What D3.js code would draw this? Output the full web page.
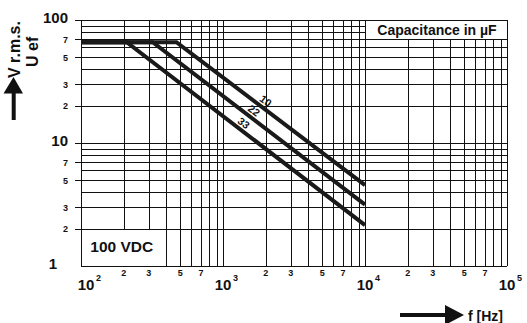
<!DOCTYPE html>
<html><head><meta charset="utf-8">
<script src="https://cdn.jsdelivr.net/npm/d3@7"></script>
<style>
html,body{margin:0;padding:0;background:#fff;}
svg{display:block;font-family:"Liberation Sans",Arial,sans-serif;font-weight:bold;}
</style></head><body>
<svg id="c" width="527" height="323"></svg>
<script>
// ---- data ----
const capacitances = ["10", "22", "33"];
const freq10 = [100, 470, 10000];
const volt10 = [66, 66, 4.55];
const freq22 = [100, 320, 10000];
const volt22 = [66, 66, 3.15];
const freq33 = [100, 210, 10000];
const volt33 = [66, 66, 2.15];
const labelFreq = [2000, 1650, 1400];
const xMinorLabels = [200, 300, 500, 700, 2000, 3000, 5000, 7000, 20000, 30000, 50000, 70000];
const xMajorLabels = [100, 1000, 10000, 100000];
const yMinorLabels = [2, 3, 5, 7, 20, 30, 50, 70];
const yMajorLabels = [1, 10, 100];
const boxVDC = {fMax: 400, vMax: 2, text: "100 VDC"};
const boxCap = {fMin: 10000, vMin: 70, text: "Capacitance in µF"};

const series = [
  {name: capacitances[0], f: freq10, v: volt10, lf: labelFreq[0]},
  {name: capacitances[1], f: freq22, v: volt22, lf: labelFreq[1]},
  {name: capacitances[2], f: freq33, v: volt33, lf: labelFreq[2]}
];

const svg = d3.select("#c");
const L = 81, R = 507, T = 20, B = 266;
const x = d3.scaleLog().domain([100, 100000]).range([L, R]);
const y = d3.scaleLog().domain([1, 100]).range([B, T]);
const px = v => Math.round(v) + 0.5;
const ink = "#111";

// grid
const g = svg.append("g");
g.selectAll("line.v").data(x.ticks()).join("line")
  .attr("x1", d => px(x(d))).attr("x2", d => px(x(d)))
  .attr("y1", T).attr("y2", B)
  .attr("stroke", ink).attr("stroke-width", 1);
g.selectAll("line.h").data(y.ticks()).join("line")
  .attr("x1", L).attr("x2", R)
  .attr("y1", d => px(y(d))).attr("y2", d => px(y(d)))
  .attr("stroke", ink).attr("stroke-width", 1);

// y tick marks (labelled values)
g.selectAll("line.yt").data(yMinorLabels.concat([10, 100])).join("line")
  .attr("x1", L - 6).attr("x2", L)
  .attr("y1", d => px(y(d))).attr("y2", d => px(y(d)))
  .attr("stroke", ink).attr("stroke-width", 1);

// 100 VDC box (blank region)
svg.append("rect")
  .attr("x", px(x(100)) + 0.5).attr("y", px(y(boxVDC.vMax)) + 0.5)
  .attr("width", px(x(boxVDC.fMax)) - px(x(100)) - 1)
  .attr("height", px(y(1)) - px(y(boxVDC.vMax)) - 1)
  .attr("fill", "#fff");
svg.append("text")
  .attr("x", (x(100) + x(boxVDC.fMax)) / 2 - 2)
  .attr("y", (y(1) + y(boxVDC.vMax)) / 2 + 5)
  .attr("text-anchor", "middle").attr("font-size", 15.5).attr("fill", ink)
  .text(boxVDC.text);

// Capacitance box
svg.append("rect")
  .attr("x", px(x(boxCap.fMin))).attr("y", px(y(100)))
  .attr("width", px(x(100000)) - px(x(boxCap.fMin)))
  .attr("height", px(y(boxCap.vMin)) - px(y(100)))
  .attr("fill", "#fff").attr("stroke", ink).attr("stroke-width", 1);
svg.append("text")
  .attr("x", (x(boxCap.fMin) + x(100000)) / 2 + 1)
  .attr("y", (y(100) + y(boxCap.vMin)) / 2 + 5)
  .attr("text-anchor", "middle").attr("font-size", 14).attr("fill", ink)
  .text(boxCap.text);

// curves
const line = d3.line().x(d => x(d[0])).y(d => y(d[1]));
svg.selectAll("path.curve").data(series).join("path")
  .attr("d", s => line(s.f.map((f, i) => [f, s.v[i]])))
  .attr("fill", "none").attr("stroke", "#1a1a1a").attr("stroke-width", 4)
  .attr("stroke-linejoin", "miter");

// curve labels
series.forEach(s => {
  const i = s.f.length - 2;
  const x0 = x(s.f[i]), y0 = y(s.v[i]), x1 = x(s.f[i + 1]), y1 = y(s.v[i + 1]);
  const ang = Math.atan2(y1 - y0, x1 - x0) * 180 / Math.PI;
  const lx = x(s.lf);
  const t = Math.log(s.lf / s.f[i]) / Math.log(s.f[i + 1] / s.f[i]);
  const ly = Math.exp(Math.log(s.v[i]) + t * (Math.log(s.v[i + 1]) - Math.log(s.v[i])));
  svg.append("text")
    .attr("transform", `translate(${lx},${y(ly) - 9}) rotate(${ang})`)
    .attr("text-anchor", "middle").attr("dy", "0.35em")
    .attr("font-size", 10.5).attr("fill", ink)
    .text(s.name);
});

// y labels
svg.selectAll("text.ym").data(yMinorLabels).join("text")
  .attr("x", 68).attr("y", d => y(d) + 3.5)
  .attr("text-anchor", "end").attr("font-size", 9).attr("fill", ink)
  .text(d => String(d)[0]);
svg.selectAll("text.yM").data(yMajorLabels).join("text")
  .attr("x", d => d === 1 ? 57 : 68).attr("y", d => y(d) + 3)
  .attr("text-anchor", "end").attr("font-size", 15).attr("fill", ink)
  .text(d => d);

// x labels
svg.selectAll("text.xm").data(xMinorLabels).join("text")
  .attr("x", d => x(d)).attr("y", 276)
  .attr("text-anchor", "middle").attr("font-size", 9).attr("fill", ink)
  .text(d => String(d)[0]);
const xm = svg.selectAll("g.xM").data(xMajorLabels).join("g")
  .attr("transform", d => `translate(${Math.max(x(d), L + 5)},0)`);
xm.append("text").attr("x", 0).attr("y", 290)
  .attr("text-anchor", "middle").attr("font-size", 15).attr("fill", ink)
  .text("10");
xm.append("text").attr("x", 10).attr("y", 281)
  .attr("text-anchor", "start").attr("font-size", 9).attr("fill", ink)
  .text(d => Math.round(Math.log10(d)));

// y axis title + arrow
svg.append("text").attr("transform", "translate(20,78) rotate(-90)")
  .attr("font-size", 16).attr("fill", ink).text("V r.m.s.");
svg.append("text").attr("transform", "translate(38,67) rotate(-90)")
  .attr("font-size", 16).attr("fill", ink).text("U ef");
svg.append("rect").attr("x", 11.7).attr("y", 92).attr("width", 4).attr("height", 28).attr("fill", ink);
svg.append("path").attr("d", "M3.5,93.5 L23,93.5 L13.5,77 Z").attr("fill", ink);

// x axis title + arrow
svg.append("rect").attr("x", 400).attr("y", 313).attr("width", 46).attr("height", 4).attr("fill", ink);
svg.append("path").attr("d", "M445,305 L445,325 L464,315 Z").attr("fill", ink);
svg.append("text").attr("x", 468).attr("y", 320.5)
  .attr("font-size", 14).attr("fill", ink).text("f [Hz]");
</script>
</body></html>
